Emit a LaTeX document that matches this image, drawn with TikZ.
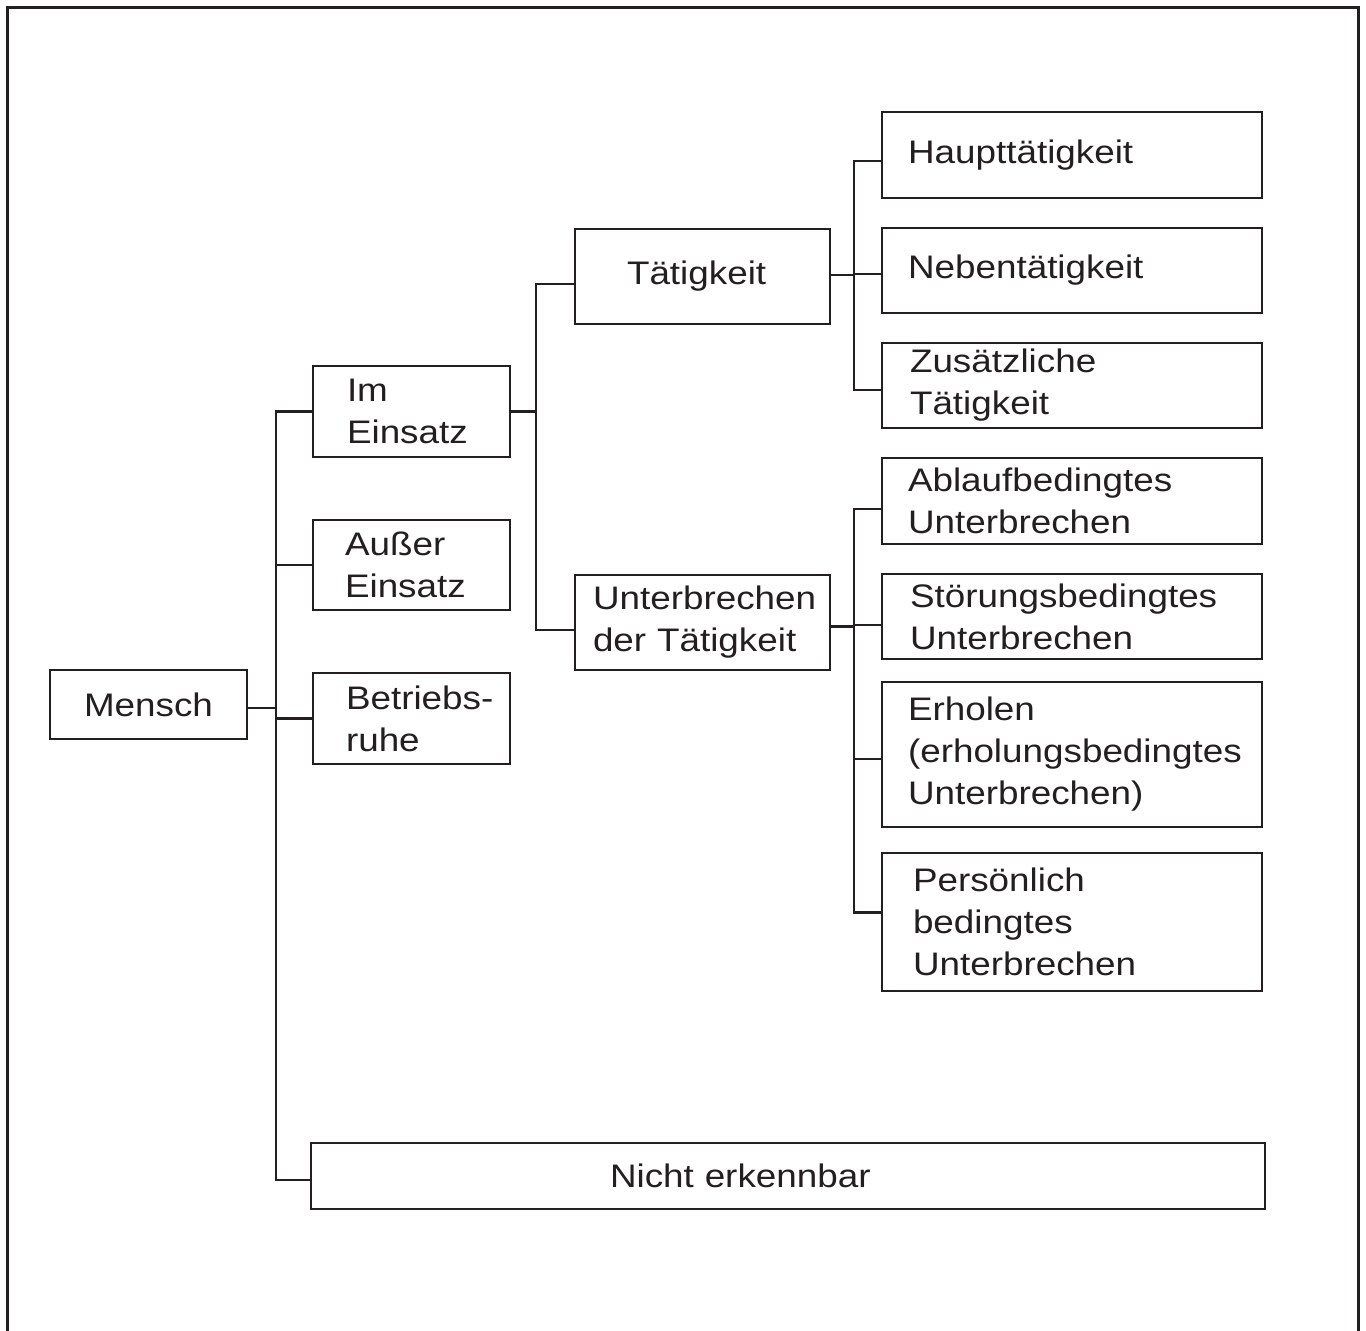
\documentclass[tikz,border=0pt]{standalone}
\usepackage{fontspec}
\setmainfont{Liberation Sans}[FakeStretch=1.13]
\definecolor{ink}{HTML}{231F20}
\tikzset{
  boxst/.style={draw=ink, text=ink, line width=1.25pt, rectangle, inner ysep=0pt, outer sep=0pt,
    align=left, font=\fontsize{16.3pt}{21pt}\selectfont},
  conn/.style={draw=ink, line width=1.25pt},
  frame/.style={draw=ink, line width=1.5pt}
}
% \mkbox{name}{x1}{y1}{x2}{y2}{left pad}{text}{extra options}
\newcommand\mkbox[8]{%
  \pgfmathsetmacro\bw{(#4-#2)*0.5}%
  \pgfmathsetmacro\bh{(#5-#3)*0.5}%
  \pgfmathsetmacro\tw{(#4-#2-2*#6)*0.5}%
  \pgfmathsetmacro\px{#6*0.5}%
  \node[boxst, minimum width=\bw pt, minimum height=\bh pt, text width=\tw pt,
        inner xsep=\px pt, anchor=north west, #8] (#1) at (#2,#3) {#7};%
}
\begin{document}
\begin{tikzpicture}[x=0.5pt, y=-0.5pt]
\useasboundingbox (0,0) rectangle (1366,1331);
\draw[frame] (7,1335) -- (7,8) -- (1358,8) -- (1358,1335);

\mkbox{mensch}{50}{670}{247}{739}{10}{Mensch}{align=center}
\mkbox{imE}{313}{366}{510}{457}{34}{Im\\Einsatz}{}
\mkbox{ausE}{313}{520}{510}{610}{32}{Außer\\Einsatz}{}
\mkbox{betr}{313}{673}{510}{764}{33}{\mbox{Betriebs-}\\ruhe}{}
\mkbox{nicht}{311}{1143}{1265}{1209}{299}{Nicht erkennbar}{}
\mkbox{taet}{575}{229}{830}{324}{52}{Tätigkeit}{}
\mkbox{unt}{575}{575}{830}{670}{18}{\mbox{Unterbrechen}\\\mbox{der Tätigkeit}}{}
\mkbox{haupt}{882}{112}{1262}{198}{26}{Haupttätigkeit}{}
\mkbox{neben}{882}{228}{1262}{313}{26}{Nebentätigkeit}{}
\mkbox{zus}{882}{343}{1262}{428}{28}{Zusätzliche\\Tätigkeit}{}
\mkbox{abl}{882}{458}{1262}{544}{26}{Ablaufbedingtes\\Unterbrechen}{}
\mkbox{stoer}{882}{574}{1262}{659}{28}{Störungsbedingtes\\Unterbrechen}{}
\mkbox{erh}{882}{682}{1262}{827}{26}{Erholen\\\mbox{(erholungsbedingtes}\\Unterbrechen)}{}
\mkbox{pers}{882}{853}{1262}{991}{31}{Persönlich\\bedingtes\\Unterbrechen}{}

% level 1
\draw[conn] (imE.west) -- ++(-37,0) |- ([yshift=-2pt]nicht.west);
\draw[conn] ([yshift=-1.75pt]mensch.east) -- ++(29,0);
\draw[conn] (ausE.west) -- ++(-37,0);
\draw[conn] (betr.west) -- ++(-37,0);
% level 2
\draw[conn] ([yshift=-3.75pt]taet.west) -- ++(-39,0) |- ([yshift=-3.75pt]unt.west);
\draw[conn] (imE.east) -- ++(26,0);
% level 3 (Taetigkeit)
\draw[conn] ([yshift=-3pt]haupt.west) -- ++(-28,0) |- ([yshift=-2.25pt]zus.west);
\draw[conn] ([yshift=-1.75pt]neben.west) -- ++(-28,0);
\draw[conn] ([yshift=0.75pt]taet.east) -- ++(24,0);
% level 3 (Unterbrechen)
\draw[conn] ([yshift=-4pt]abl.west) -- ++(-28,0) |- ([yshift=4.75pt]pers.west);
\draw[conn] ([yshift=-4.25pt]stoer.west) -- ++(-28,0);
\draw[conn] ([yshift=-2.25pt]erh.west) -- ++(-28,0);
\draw[conn] ([yshift=-2pt]unt.east) -- ++(24,0);
\end{tikzpicture}
\end{document}
